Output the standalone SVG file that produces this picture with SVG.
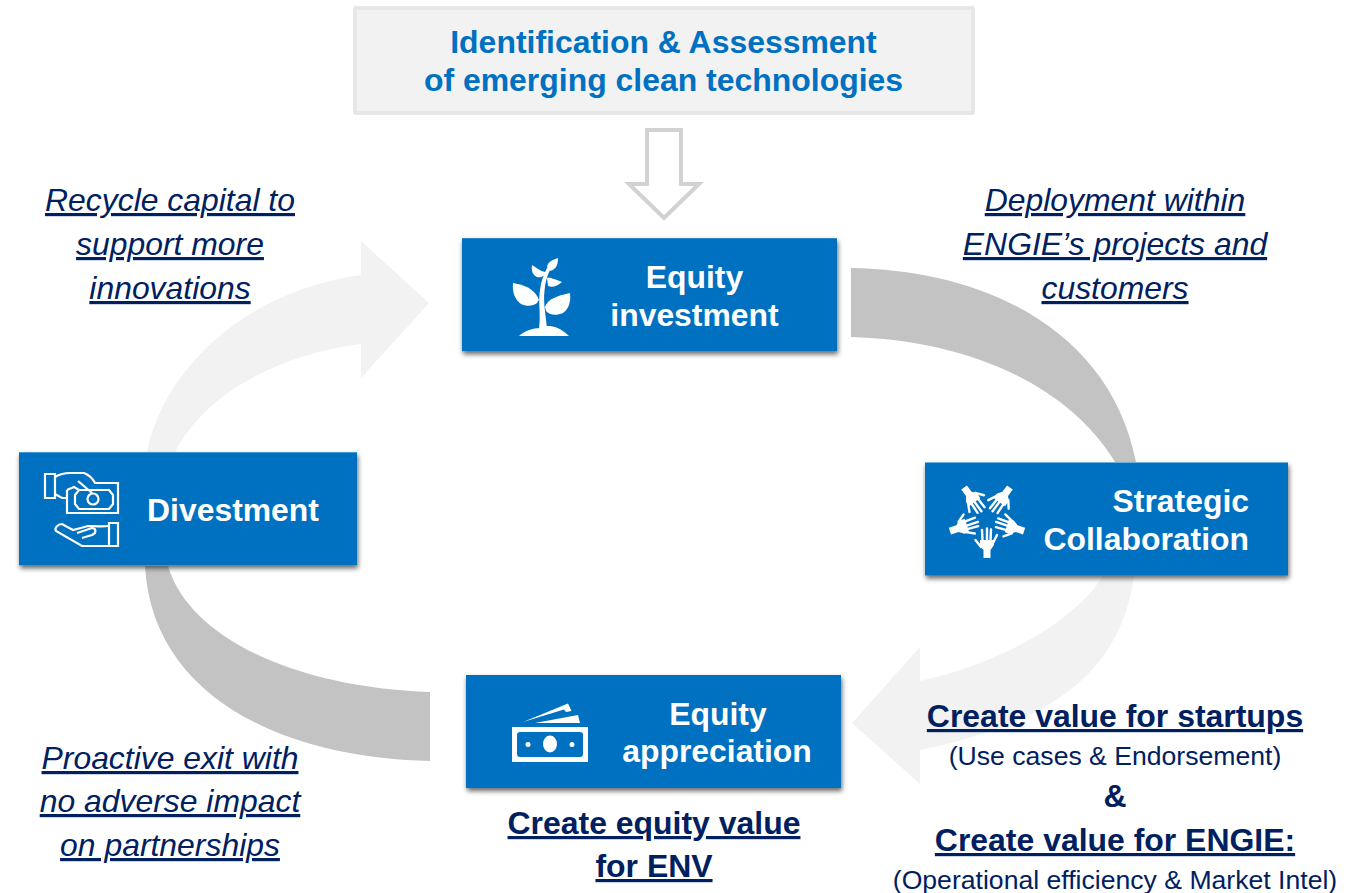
<svg xmlns="http://www.w3.org/2000/svg" width="1360" height="893" viewBox="0 0 1360 893">
<style>
text{font-family:"Liberation Sans",Arial,sans-serif}
.b{font-weight:700;font-size:31.900px;fill:#fff;text-anchor:middle}
.t{font-weight:700;font-size:31.950px;fill:#0070C0;text-anchor:middle}
.i{font-style:italic;font-size:31.900px;fill:#002060;text-anchor:middle;text-decoration:underline}
.v{font-weight:700;font-size:31.950px;fill:#002060;text-anchor:middle}
.u{text-decoration:underline}
.s{font-size:26.600px;fill:#002060;text-anchor:middle}
.box{fill:#0070C0;filter:url(#sh)}
.ic{fill:#fff}
.ol{fill:none;stroke:#fff;stroke-width:2.2}
.fg{fill:none;stroke:#fff;stroke-width:2.400;stroke-linecap:round}
</style>
<defs>
<filter id="sh" x="-5%" y="-5%" width="112%" height="120%"><feDropShadow dx="1" dy="3" stdDeviation="2.500" flood-color="#000" flood-opacity=".6"/></filter>
<g id="hand">
<path class="ic" d="M-3.500 39V31L-7 27V21H7V26L3.500 31V39Z"/>
<path class="fg" d="M-4.500 22L-5 11M0 22L0 9.500M3.500 22L4 10.500M6 24L10 16M-6 28L-11.500 21"/>
</g>
</defs>
<g id="connectors">
<path d="M147 452C165 365 250 290 361 275V241L429 303L361 378V344C275 355 205 395 175 452Z" fill="#F2F2F2"/>
<path d="M851 268C985 270 1110 330 1136 462H1115C1065 380 960 340 851 337Z" fill="#C3C3C3"/>
<path d="M1134 576C1120 680 1040 725 920 750V784L852 723L920 647V681C1005 662 1075 620 1103 576Z" fill="#F2F2F2"/>
<path d="M145 566C152 695 280 758 430 761V692C300 688 190 640 168 566Z" fill="#C3C3C3"/>
<path d="M647 130H681V184H699L664 218L629 184H647Z" fill="#fff" stroke="#D2D2D2" stroke-width="4"/>
</g>
<g id="identification">
<rect x="355" y="8" width="618" height="105" rx="1" fill="#F2F2F2" stroke="#E7E7E7" stroke-width="4"/>
<text class="t" x="663.500" y="53">Identification &amp; Assessment</text>
<text class="t" x="663.500" y="91">of emerging clean technologies</text>
</g>
<g id="equity-investment">
<rect class="box" x="462" y="238.200" width="375" height="113"/>
<text class="b" x="694.500" y="288">Equity</text>
<text class="b" x="694.500" y="326">investment</text>
<g class="ic">
<path d="M519 336C524 331 533 328 540 328C543 326 547 326 550 326C558 327 564 331 569 336Z"/>
<path d="M539 329C541 315 538 302 540 290C541 281 544 274 547 268L550 270C547 276 545 283 544.500 291C543 302 546 316 547 329Z"/>
<path d="M539 300C536 292 530 286 513 283C512 292 515 300 521 304C527 307 533 306 537 303Z"/>
<path d="M545 307C548 299 556 296 570 293C571 301 569 309 563 313C556 316 549 315 546 311Z"/>
<path d="M547 278C550 277 554 279 562 282C557 286 553 288 548 286Z"/>
<path d="M545 272C540 271 537 268 532 265C531 271 533 275 537 277C541 278 544 276 545 274Z"/>
<path d="M548 270C546 265 548 261 558 258C558 263 557 267 554 269C552 271 550 271 548 270Z"/>
</g>
</g>
<g id="strategic-collaboration">
<rect class="box" x="925" y="462.500" width="363" height="113"/>
<text class="b" x="1249" y="512" style="text-anchor:end">Strategic</text>
<text class="b" x="1249" y="550" style="text-anchor:end">Collaboration</text>
<g transform="translate(987 519)">
<use href="#hand"/>
<use href="#hand" transform="rotate(72)"/>
<use href="#hand" transform="rotate(144)"/>
<use href="#hand" transform="rotate(216)"/>
<use href="#hand" transform="rotate(288)"/>
</g>
</g>
<g id="equity-appreciation">
<rect class="box" x="466" y="675" width="375" height="113"/>
<text class="b" x="718" y="725">Equity</text>
<text class="b" x="717" y="762">appreciation</text>
<g>
<path d="M512 727H588V762H512ZM520 732Q517 732 517 735V754Q517 757 520 757H580Q583 757 583 754V735Q583 732 580 732Z" fill="#fff" fill-rule="evenodd"/>
<ellipse cx="550" cy="744" rx="7" ry="8.500" fill="#fff"/>
<circle cx="528" cy="744.500" r="2.500" fill="#fff"/>
<circle cx="572" cy="744.500" r="2.500" fill="#fff"/>
<path d="M523 722L568 703.500L571.500 711L566 712L564 709.500Z" fill="#fff"/>
<path d="M535 723L578 715L580 723Z" fill="#fff"/>
</g>
</g>
<g id="divestment">
<rect class="box" x="19" y="452.300" width="338" height="113"/>
<text class="b" x="233" y="521">Divestment</text>
<g class="ol">
<path d="M45 474H55V498H45Z"/>
<path d="M55 477C60 474 66 473 70 473H84C89 475 93 479 95 483H118V513H67V490"/>
<path d="M55 494L62 498H67M78 481L92 493M67 490L74 487L79 490"/>
<path d="M79 490H109L113 495V504L109 509H79L75 504V495Z"/>
<circle cx="93" cy="499" r="5.500"/>
<path d="M109 523H118V546H109Z"/>
<path d="M109 526C100 527 95 526 88 526L73 530L62 524C58 524 54 528 56 531L82 546H109"/>
<path d="M77 533L92 528C96 528 97 533 92 535L82 538"/>
</g>
</g>
<g id="labels">
<text class="i" x="170" y="211">Recycle capital to</text>
<text class="i" x="170" y="255">support more</text>
<text class="i" x="170" y="299">innovations</text>
<text class="i" x="1115" y="211">Deployment within</text>
<text class="i" x="1115" y="255">ENGIE’s projects and</text>
<text class="i" x="1115" y="299">customers</text>
<text class="i" x="170" y="769">Proactive exit with</text>
<text class="i" x="170" y="812">no adverse impact</text>
<text class="i" x="170" y="856">on partnerships</text>
<text class="v u" x="654" y="834">Create equity value</text>
<text class="v u" x="654" y="877">for ENV</text>
<text class="v u" x="1115" y="727">Create value for startups</text>
<text class="s" x="1115" y="765">(Use cases &amp; Endorsement)</text>
<text class="v" x="1115" y="807">&amp;</text>
<text class="v u" x="1115" y="851">Create value for ENGIE:</text>
<text class="s" x="1115" y="889">(Operational efficiency &amp; Market Intel)</text>
</g>
</svg>
